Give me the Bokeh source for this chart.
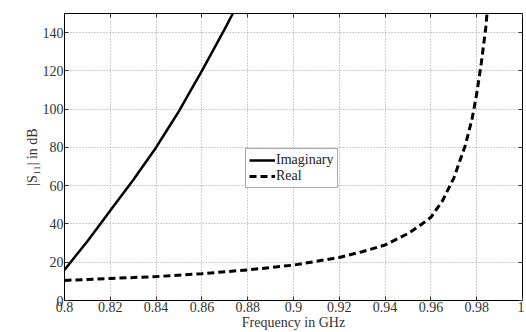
from bokeh.plotting import figure
from bokeh.models import FixedTicker, LinearAxis, Legend, LegendItem, Range1d
from bokeh.embed import file_html
from bokeh.resources import INLINE

# Data
imag_freq = [0.8, 0.805, 0.81, 0.815, 0.82, 0.825, 0.83, 0.835, 0.84, 0.845,
             0.85, 0.855, 0.86, 0.865, 0.87, 0.8735]
imag_s11 = [16, 23.5, 31, 39, 47, 55, 63, 71.5, 80, 89.5,
            99, 109.5, 120, 131, 142, 150]

real_freq = [0.8, 0.82, 0.84, 0.86, 0.88, 0.9, 0.91, 0.92, 0.93, 0.94,
             0.95, 0.955, 0.96, 0.965, 0.97, 0.975, 0.978, 0.98, 0.982,
             0.984, 0.9845]
real_s11 = [10.5, 11.5, 12.5, 14, 16, 18.5, 20.5, 22.5, 25.5, 29,
            35, 39, 43.5, 52, 64, 81, 95, 108, 124, 143, 150]

x_ticks = [0.8, 0.82, 0.84, 0.86, 0.88, 0.9, 0.92, 0.94, 0.96, 0.98, 1.0]
x_tick_labels = ["0.8", "0.82", "0.84", "0.86", "0.88", "0.9", "0.92",
                 "0.94", "0.96", "0.98", "1"]
y_ticks = [0, 20, 40, 60, 80, 100, 120, 140]

FONT = "'Liberation Serif', 'Times New Roman', serif"

p = figure(width=524, height=332, output_backend="svg", toolbar_location=None,
           x_range=Range1d(0.8, 1.0), y_range=Range1d(0, 150),
           min_border_left=64, min_border_right=2, min_border_top=13,
           min_border_bottom=31)
p.background_fill_color = "white"
p.border_fill_color = "white"
p.outline_line_color = "black"
p.outline_line_width = 1

# grid
for g in (p.xgrid, p.ygrid):
    g.grid_line_color = "#9a9a9a"
    g.grid_line_dash = "1 2"
    g.grid_line_width = 1
p.xgrid.ticker = FixedTicker(ticks=x_ticks)
p.ygrid.ticker = FixedTicker(ticks=y_ticks)

# axes
xa = p.xaxis[0]
xa.ticker = FixedTicker(ticks=x_ticks)
xa.major_label_overrides = {t: l for t, l in zip(x_ticks, x_tick_labels)}
ya = p.yaxis[0]
ya.ticker = FixedTicker(ticks=y_ticks)
xa.axis_label = "Frequency in GHz"
ya.axis_label = "|S₁₁| in dB"
for ax in (xa, ya):
    ax.major_tick_in = 4
    ax.major_tick_out = 0
    ax.minor_tick_in = 0
    ax.minor_tick_out = 0
    ax.axis_line_color = "black"
    ax.major_tick_line_color = "#333333"
    ax.major_label_text_font = FONT
    ax.major_label_text_font_size = "14px"
    ax.major_label_text_font_style = "normal"
    ax.major_label_text_color = "#333333"
    ax.axis_label_text_font = FONT
    ax.axis_label_text_font_size = "14px"
    ax.axis_label_text_font_style = "normal"
    ax.axis_label_text_color = "#333333"
    ax.major_label_standoff = 1
    ax.axis_label_standoff = 0

top = LinearAxis(ticker=FixedTicker(ticks=x_ticks))
right = LinearAxis(ticker=FixedTicker(ticks=y_ticks))
top.major_label_overrides = {t: "" for t in x_ticks}
right.major_label_overrides = {t: "" for t in y_ticks}
for ax in (top, right):
    ax.major_tick_in = 4
    ax.major_tick_out = 0
    ax.minor_tick_in = 0
    ax.minor_tick_out = 0
    ax.major_label_standoff = 0
    ax.axis_line_color = None
    ax.major_tick_line_color = "#333333"
p.add_layout(top, "above")
p.add_layout(right, "right")

r_imag = p.line(imag_freq, imag_s11, line_color="black", line_width=2.5)
r_real = p.line(real_freq, real_s11, line_color="black", line_width=3,
                line_dash="7 4")

legend = Legend(items=[LegendItem(label="Imaginary", renderers=[r_imag]),
                       LegendItem(label="Real", renderers=[r_real])],
                location=(181, 112))
legend.label_text_font = FONT
legend.label_text_font_style = "normal"
legend.label_text_font_size = "14px"
legend.label_text_color = "#222222"
legend.border_line_color = "#555555"
legend.border_line_width = 1
legend.glyph_width = 26
legend.glyph_height = 16
legend.label_height = 16
legend.spacing = 0
legend.padding = 3
legend.margin = 0
legend.label_standoff = 1
legend.background_fill_color = "white"
p.add_layout(legend, "center")

open("out.html", "w").write(file_html(p, INLINE))
